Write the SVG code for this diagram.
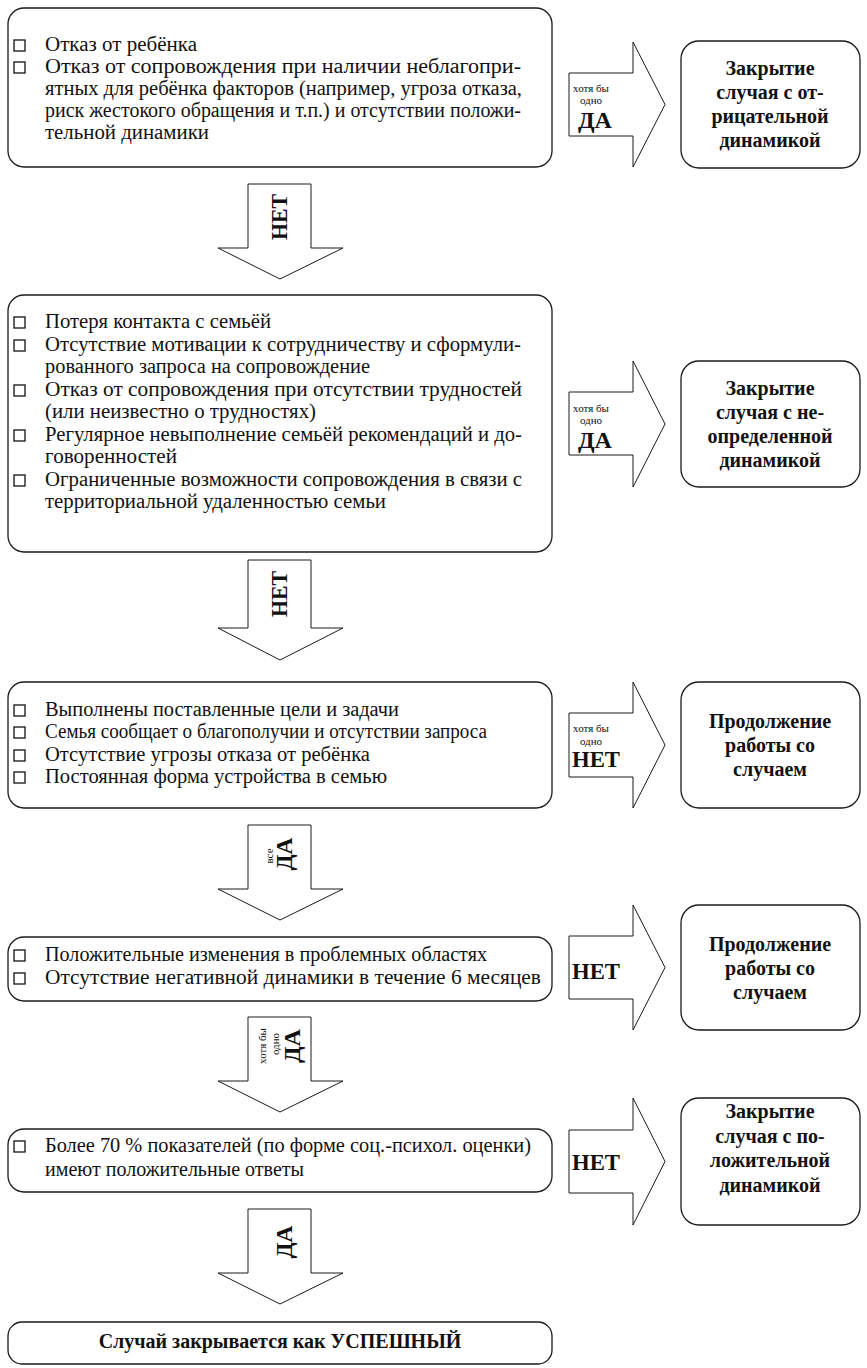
<svg xmlns="http://www.w3.org/2000/svg" width="867" height="1368" viewBox="0 0 867 1368" font-family="'Liberation Serif','DejaVu Serif','Noto Serif',serif">
<style>
.box{fill:#fff;stroke:#1a1a1a;stroke-width:1.3}
.arr{fill:#fff;stroke:#1a1a1a;stroke-width:1}
.cb{fill:none;stroke:#111;stroke-width:1.3}
text{font-family:'Liberation Serif','DejaVu Serif',serif}
.t{font-size:20px;fill:#111}
.b{font-size:20px;font-weight:bold;fill:#111;text-anchor:middle}
.s{font-size:11px;fill:#111;text-anchor:middle}
.L{font-size:24px;font-weight:bold;fill:#111;text-anchor:middle}
</style>
<rect width="867" height="1368" fill="#fff"/>
<g id="connectors">
<path class="arr" d="M569,73H633V42L665,104.5L633,167V136H569Z"/>
<path class="arr" d="M569,392H633V361L665,424L633,487V455H569Z"/>
<path class="arr" d="M569,713H633V682L665,745L633,808V777H569Z"/>
<path class="arr" d="M569,936H633V905L665,967.5L633,1030V999H569Z"/>
<path class="arr" d="M569,1130H633V1098L665,1161.5L633,1225V1193H569Z"/>
<path class="arr" d="M248,184H311V248H343L280,279L218,248H248Z"/>
<path class="arr" d="M248,560H311V628H343L280,660L218,628H248Z"/>
<path class="arr" d="M248,825H311V889H343L280,920L218,889H248Z"/>
<path class="arr" d="M248,1017H311V1081H343L280,1112L218,1081H248Z"/>
<path class="arr" d="M248,1209H311V1273H343L280,1304L218,1273H248Z"/>
<text class="s" x="591" y="92">хотя бы</text>
<text class="s" x="591" y="104">одно</text>
<text class="L" x="595" y="128" textLength="34" lengthAdjust="spacingAndGlyphs">ДА</text>
<text class="s" x="591" y="412">хотя бы</text>
<text class="s" x="591" y="424">одно</text>
<text class="L" x="595" y="448" textLength="34" lengthAdjust="spacingAndGlyphs">ДА</text>
<text class="s" x="591" y="732">хотя бы</text>
<text class="s" x="591" y="745">одно</text>
<text class="L" x="596" y="767" textLength="48" lengthAdjust="spacingAndGlyphs">НЕТ</text>
<text class="L" x="596" y="979" textLength="48" lengthAdjust="spacingAndGlyphs">НЕТ</text>
<text class="L" x="596" y="1170" textLength="48" lengthAdjust="spacingAndGlyphs">НЕТ</text>
<text class="L" transform="translate(287,217) rotate(-90)" textLength="46" lengthAdjust="spacingAndGlyphs">НЕТ</text>
<text class="L" transform="translate(287,594) rotate(-90)" textLength="46" lengthAdjust="spacingAndGlyphs">НЕТ</text>
<text class="s" transform="translate(273,856) rotate(-90)">все</text>
<text class="L" transform="translate(292,854) rotate(-90)" textLength="33" lengthAdjust="spacingAndGlyphs">ДА</text>
<text class="s" transform="translate(266,1046) rotate(-90)">хотя бы</text>
<text class="s" transform="translate(279,1044) rotate(-90)">одно</text>
<text class="L" transform="translate(300,1046) rotate(-90)" textLength="34" lengthAdjust="spacingAndGlyphs">ДА</text>
<text class="L" transform="translate(292,1242) rotate(-90)" textLength="33" lengthAdjust="spacingAndGlyphs">ДА</text>
</g>
<g id="box1">
<rect class="box" x="8" y="8" width="544" height="159" rx="16"/>
<rect class="cb" x="14" y="40" width="11" height="11"/>
<rect class="cb" x="14" y="62" width="11" height="11"/>
<text class="t" x="45" y="51" textLength="152" lengthAdjust="spacingAndGlyphs">Отказ от ребёнка</text>
<text class="t" x="45" y="73" textLength="476" lengthAdjust="spacingAndGlyphs">Отказ от сопровождения при наличии неблагопри-</text>
<text class="t" x="45" y="95" textLength="477" lengthAdjust="spacingAndGlyphs">ятных для ребёнка факторов (например, угроза отказа,</text>
<text class="t" x="45" y="117" textLength="476" lengthAdjust="spacingAndGlyphs">риск жестокого обращения и т.п.) и отсутствии положи-</text>
<text class="t" x="45" y="139" textLength="164" lengthAdjust="spacingAndGlyphs">тельной динамики</text>
</g>
<g id="res1">
<rect class="box" x="681" y="41" width="179" height="127" rx="18"/>
<text class="b" x="770" y="75">Закрытие</text>
<text class="b" x="770" y="99">случая с от-</text>
<text class="b" x="770" y="123">рицательной</text>
<text class="b" x="770" y="147">динамикой</text>
</g>
<g id="box2">
<rect class="box" x="8" y="295" width="544" height="257" rx="16"/>
<rect class="cb" x="14" y="317" width="11" height="11"/>
<rect class="cb" x="14" y="340" width="11" height="11"/>
<rect class="cb" x="14" y="385" width="11" height="11"/>
<rect class="cb" x="14" y="430" width="11" height="11"/>
<rect class="cb" x="14" y="475" width="11" height="11"/>
<text class="t" x="45" y="328" textLength="226" lengthAdjust="spacingAndGlyphs">Потеря контакта с семьёй</text>
<text class="t" x="45" y="351" textLength="476" lengthAdjust="spacingAndGlyphs">Отсутствие мотивации к сотрудничеству и сформули-</text>
<text class="t" x="45" y="373" textLength="325" lengthAdjust="spacingAndGlyphs">рованного запроса на сопровождение</text>
<text class="t" x="45" y="396" textLength="477" lengthAdjust="spacingAndGlyphs">Отказ от сопровождения при отсутствии трудностей</text>
<text class="t" x="45" y="418" textLength="271" lengthAdjust="spacingAndGlyphs">(или неизвестно о трудностях)</text>
<text class="t" x="45" y="441" textLength="477" lengthAdjust="spacingAndGlyphs">Регулярное невыполнение семьёй рекомендаций и до-</text>
<text class="t" x="45" y="463" textLength="132" lengthAdjust="spacingAndGlyphs">говоренностей</text>
<text class="t" x="45" y="486" textLength="477" lengthAdjust="spacingAndGlyphs">Ограниченные возможности сопровождения в связи с</text>
<text class="t" x="45" y="508" textLength="341" lengthAdjust="spacingAndGlyphs">территориальной удаленностью семьи</text>
</g>
<g id="res2">
<rect class="box" x="681" y="361" width="179" height="126" rx="18"/>
<text class="b" x="770" y="395">Закрытие</text>
<text class="b" x="770" y="419">случая с не-</text>
<text class="b" x="770" y="443">определенной</text>
<text class="b" x="770" y="467">динамикой</text>
</g>
<g id="box3">
<rect class="box" x="8" y="682" width="544" height="126" rx="16"/>
<rect class="cb" x="14" y="705" width="11" height="11"/>
<rect class="cb" x="14" y="727" width="11" height="11"/>
<rect class="cb" x="14" y="750" width="11" height="11"/>
<rect class="cb" x="14" y="772" width="11" height="11"/>
<text class="t" x="45" y="716" textLength="354" lengthAdjust="spacingAndGlyphs">Выполнены поставленные цели и задачи</text>
<text class="t" x="45" y="738" textLength="442" lengthAdjust="spacingAndGlyphs">Семья сообщает о благополучии и отсутствии запроса</text>
<text class="t" x="45" y="761" textLength="325" lengthAdjust="spacingAndGlyphs">Отсутствие угрозы отказа от ребёнка</text>
<text class="t" x="45" y="783" textLength="342" lengthAdjust="spacingAndGlyphs">Постоянная форма устройства в семью</text>
</g>
<g id="res3">
<rect class="box" x="681" y="682" width="179" height="126" rx="18"/>
<text class="b" x="770" y="728">Продолжение</text>
<text class="b" x="770" y="752">работы со</text>
<text class="b" x="770" y="776">случаем</text>
</g>
<g id="box4">
<rect class="box" x="8" y="937" width="544" height="64" rx="16"/>
<rect class="cb" x="14" y="950" width="11" height="11"/>
<rect class="cb" x="14" y="973" width="11" height="11"/>
<text class="t" x="45" y="961" textLength="442" lengthAdjust="spacingAndGlyphs">Положительные изменения в проблемных областях</text>
<text class="t" x="45" y="984" textLength="496" lengthAdjust="spacingAndGlyphs">Отсутствие негативной динамики в течение 6 месяцев</text>
</g>
<g id="res4">
<rect class="box" x="681" y="905" width="179" height="125" rx="18"/>
<text class="b" x="770" y="951">Продолжение</text>
<text class="b" x="770" y="975">работы со</text>
<text class="b" x="770" y="999">случаем</text>
</g>
<g id="box5">
<rect class="box" x="8" y="1129" width="544" height="63" rx="16"/>
<rect class="cb" x="14" y="1141" width="11" height="11"/>
<text class="t" x="45" y="1152" textLength="486" lengthAdjust="spacingAndGlyphs">Более 70 % показателей (по форме соц.-психол. оценки)</text>
<text class="t" x="45" y="1176" textLength="259" lengthAdjust="spacingAndGlyphs">имеют положительные ответы</text>
</g>
<g id="res5">
<rect class="box" x="681" y="1098" width="179" height="127" rx="18"/>
<text class="b" x="770" y="1118">Закрытие</text>
<text class="b" x="770" y="1143">случая с по-</text>
<text class="b" x="770" y="1167">ложительной</text>
<text class="b" x="770" y="1192">динамикой</text>
</g>
<g id="final">
<rect class="box" x="8" y="1322" width="544" height="42" rx="14"/>
<text class="b" x="280" y="1348">Случай закрывается как УСПЕШНЫЙ</text>
</g>
</svg>
